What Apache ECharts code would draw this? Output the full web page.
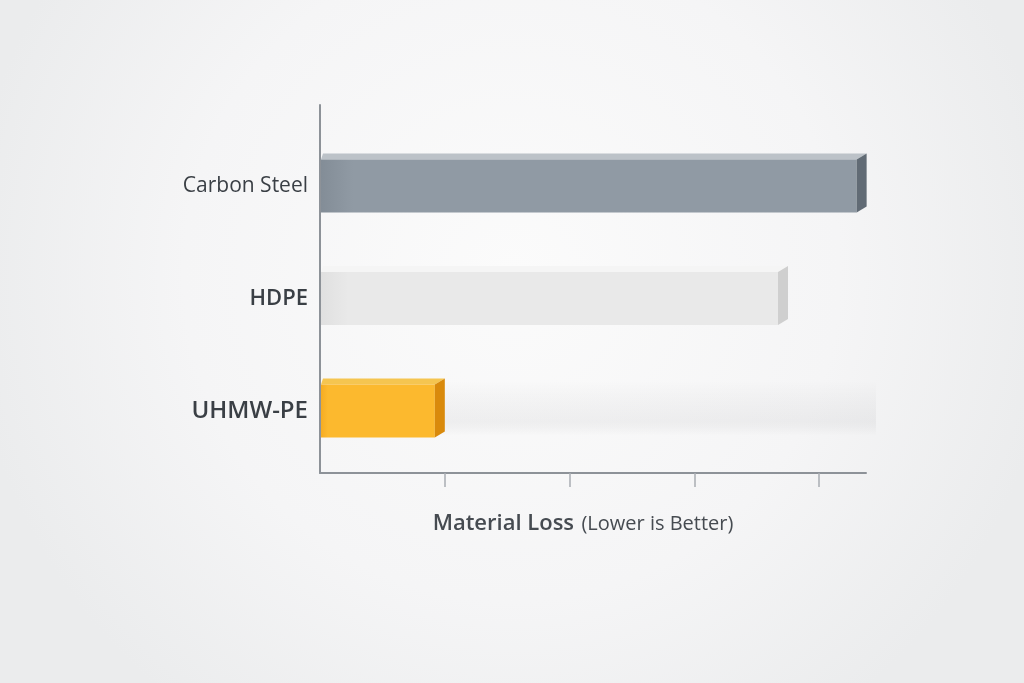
<!DOCTYPE html>
<html><head><meta charset="utf-8">
<script src="https://cdn.jsdelivr.net/npm/echarts@6/dist/echarts.min.js"></script>
<style>html,body{margin:0;padding:0;}#c{width:1024px;height:683px;}</style>
</head><body><div id="c"></div>
<script>
const categories = ['Carbon Steel', 'HDPE', 'UHMW-PE'];
const materialLoss = [86, 73.4, 18.4];
const xTickValues = [20, 40, 60, 80];
const axisMax = 87.5;

const faceColors = [
  {front: ['#838d97', '#909aa4'], top: '#bcc2c8', side: '#616b75'},
  {front: ['#e0e0e0', '#e9e9e9'], top: '#f5f5f5', side: '#cfcfcf'},
  {front: ['#f6ac22', '#fcb92e'], top: '#f5c550', side: '#d98a0c'}
];
const labelStyle = ['n', 's', 'u'];

const chart = echarts.init(document.getElementById('c'));
chart.setOption({
  backgroundColor: {
    type: 'radial', x: 0.5, y: 0.4, r: 0.8,
    colorStops: [{offset: 0, color: '#fbfbfb'}, {offset: 0.6, color: '#f5f5f6'}, {offset: 1, color: '#ebeced'}]
  },
  grid: {left: 320, right: 158, top: 105, bottom: 210},
  xAxis: {
    type: 'value', min: 0, max: axisMax,
    axisLine: {show: true, onZero: false, lineStyle: {color: '#8d9298', width: 2}},
    axisTick: {show: true, customValues: xTickValues, length: 14, lineStyle: {color: '#a9adb2', width: 1.5}},
    axisLabel: {show: false},
    splitLine: {show: false},
    name: '{b|Material Loss} {n|(Lower is Better)}',
    nameLocation: 'middle', nameGap: 40,
    nameTextStyle: {
      padding: [0, 20, 0, 0],
      rich: {
        b: {fontFamily: 'Open Sans', fontSize: 22, fontWeight: 600, color: '#464b51'},
        n: {fontFamily: 'Open Sans', fontSize: 20, color: '#464b51', padding: [0, 0, 0, 4]}
      }
    }
  },
  yAxis: {
    type: 'value', inverse: true, min: -0.72, max: 2.551,
    axisLine: {show: true, onZero: false, lineStyle: {color: '#8d9298', width: 2}},
    axisTick: {show: false},
    axisLabel: {
      customValues: [0, 1, 2], margin: 12,
      formatter: function (v) { return '{' + labelStyle[v] + '|' + categories[v] + '}'; },
      rich: {
        n: {fontFamily: 'Open Sans', fontSize: 21, color: '#3a3f45'},
        s: {fontFamily: 'Open Sans', fontSize: 22, fontWeight: 600, color: '#3a3f45'},
        u: {fontFamily: 'Open Sans', fontSize: 24, fontWeight: 600, color: '#3a3f45'}
      }
    },
    splitLine: {show: false}
  },
  series: [{
    type: 'custom',
    data: materialLoss.map((v, i) => [v, i]),
    encode: {x: 0, y: 1},
    clip: false,
    renderItem: function (params, api) {
      const idx = api.value(1);
      const start = api.coord([0, idx]);
      const end = api.coord([api.value(0), idx]);
      const axisEnd = api.coord([axisMax, idx]);
      const band = api.size([0, 1])[1];
      const h = band * 0.47;
      const dx = 10, dy = 6;
      const x0 = start[0] + 1, x1 = end[0];
      const yt = start[1] - h / 2, yb = start[1] + h / 2;
      const c = faceColors[idx];
      const children = [];
      if (idx === categories.length - 1) {
        children.push({type: 'rect', shape: {x: x1, y: yt - 4, width: axisEnd[0] - x1 + 10, height: h + 2},
          style: {fill: {type: 'linear', x: 0, y: 0, x2: 0, y2: 1,
            colorStops: [{offset: 0, color: 'rgba(0,0,0,0)'}, {offset: 0.75, color: 'rgba(60,60,70,0.055)'}, {offset: 1, color: 'rgba(0,0,0,0)'}]}}});
      }
      children.push(
        {type: 'polygon', shape: {points: [[x0, yt], [x1, yt], [x1 + dx, yt - dy], [x0 + 2, yt - dy]]},
         style: {fill: c.top}},
        {type: 'rect', shape: {x: x0, y: yt, width: x1 - x0, height: h},
         style: {fill: {type: 'linear', x: 0, y: 0, x2: 1, y2: 0,
           colorStops: [{offset: 0, color: c.front[0]}, {offset: 0.06, color: c.front[1]}, {offset: 1, color: c.front[1]}]}}},
        {type: 'polygon', shape: {points: [[x1, yt], [x1 + dx, yt - dy], [x1 + dx, yb - dy], [x1, yb]]},
         style: {fill: c.side}}
      );
      return {type: 'group', children: children};
    }
  }]
});
</script>
</body></html>
